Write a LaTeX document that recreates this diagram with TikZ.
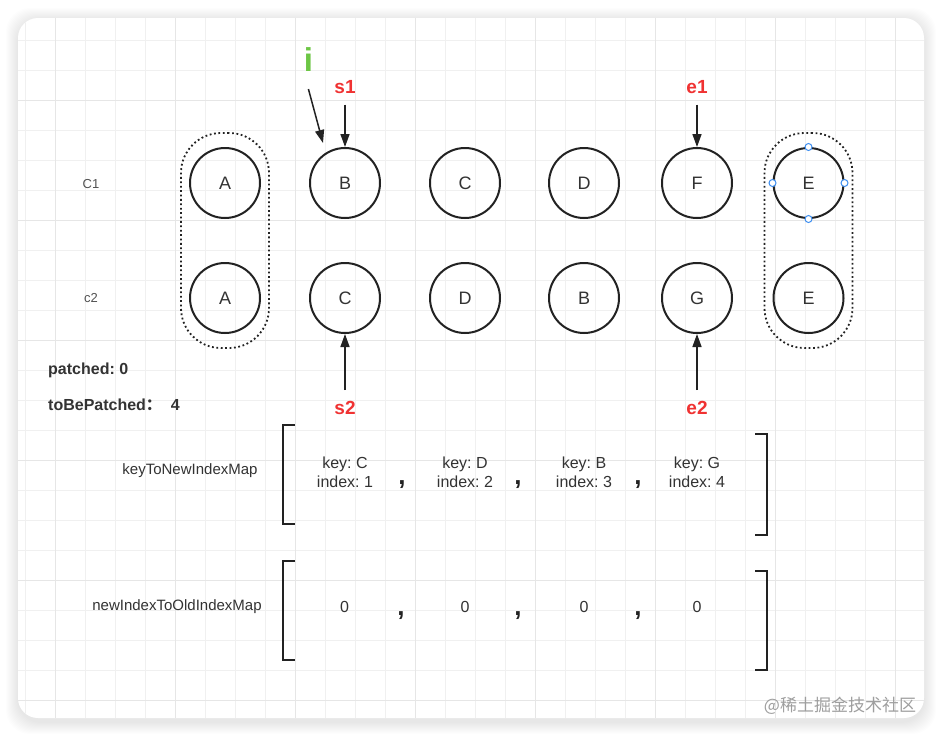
\documentclass[tikz,border=0pt]{standalone}
\usepackage{fontspec}
\setmainfont{Liberation Sans}
\newfontfamily\cjk{Noto Sans CJK SC}
\usepackage{tikz}
\usetikzlibrary{positioning,arrows.meta,fit}
\frenchspacing

\definecolor{ink}{HTML}{222222}
\definecolor{txt}{HTML}{333333}
\definecolor{ptrred}{HTML}{F03232}
\definecolor{igreen}{HTML}{6CC644}
\definecolor{handleblue}{HTML}{3D8EF0}
\definecolor{gridminor}{HTML}{F0F0F0}
\definecolor{gridmajor}{HTML}{E6E6E6}

\begin{document}
\begin{tikzpicture}[
    x=1pt, y=-1pt,
    circ/.style={circle, draw=ink, line width=2pt, minimum size=70pt, inner sep=0pt, text=txt, font=\fontsize{18}{20}\selectfont},
    grp/.style={draw=ink, line width=1.8pt, dash pattern=on 1.8pt off 2.6pt, rounded corners=40pt, inner xsep=8pt, inner ysep=14pt},
    ptr/.style={text=ptrred, inner sep=0pt, font=\bfseries\fontsize{19}{20}\selectfont},
    rowlbl/.style={text=txt!85, font=\fontsize{13}{15}\selectfont},
    info/.style={text=txt, anchor=west, inner sep=0pt, font=\bfseries\fontsize{16}{18}\selectfont},
    maplbl/.style={text=txt, font=\fontsize{15}{17}\selectfont},
    item/.style={text=txt, align=center, inner sep=0pt, font=\fontsize{16}{19}\selectfont},
    comma/.style={text=ink, anchor=base, inner sep=0pt, font=\bfseries\fontsize{26}{28}\selectfont},
    handle/.style={circle, draw=handleblue, fill=white, line width=1pt, minimum size=7pt, inner sep=0pt},
    bracket/.style={draw=ink, line width=2pt},
    arrow/.style={-{Triangle[length=13pt, width=9pt]}, line width=1.5pt, draw=ink}
]
\useasboundingbox (0,0) rectangle (942,737);

% Card with shadow
\foreach \s in {1,...,12}
  \fill[black, opacity=0.007, rounded corners=24pt] (18-\s,20-\s) rectangle (924+\s,722+\s);
\fill[white, rounded corners=20pt] (18,18) rectangle (924,718);

% Grid
\begin{scope}
  \clip[rounded corners=20pt] (18,18) rectangle (924,718);
  \foreach \k in {0,...,29} \draw[gridminor, line width=1pt] ({25.7+30*\k},18) -- ({25.7+30*\k},718);
  \foreach \k in {1,...,23} \draw[gridminor, line width=1pt] (18,{10.7+30*\k}) -- (924,{10.7+30*\k});
  \foreach \k in {1,5,...,29} \draw[gridmajor, line width=1pt] ({25.7+30*\k},18) -- ({25.7+30*\k},718);
  \foreach \k in {3,7,...,23} \draw[gridmajor, line width=1pt] (18,{10.7+30*\k}) -- (924,{10.7+30*\k});
\end{scope}

% Row labels
\node[rowlbl] (c1Lbl) at (91,184) {C1};
\node[rowlbl] (c2Lbl) at (91,298) {c2};

% Row 1: old children
\node[circ] (oldA) at (225,183) {A};
\node[circ] (oldB) at (345,183) {B};
\node[circ] (oldC) at (465,183) {C};
\node[circ] (oldD) at (584,183) {D};
\node[circ] (oldF) at (697,183) {F};
\node[circ] (oldE) at (808.5,183) {E};

% Row 2: new children
\node[circ, below=43pt of oldA] (newA) {A};
\node[circ, below=43pt of oldB] (newC) {C};
\node[circ, below=43pt of oldC] (newD) {D};
\node[circ, below=43pt of oldD] (newB) {B};
\node[circ, below=43pt of oldF] (newG) {G};
\node[circ, below=43pt of oldE] (newE) {E};

% Synced groups
\node[grp, fit=(oldA)(newA)] (headGrp) {};
\node[grp, fit=(oldE)(newE)] (tailGrp) {};

% Selection handles
\foreach \a in {north,south,east,west}
  \node[handle] at (oldE.\a) {};

% Pointers
\node[text=igreen, inner sep=0pt, font=\bfseries\fontsize{33}{35}\selectfont] (iLbl) at (308.5,59.5) {i};
\coordinate (iTip) at (323,143);
\node[ptr, above=53pt of oldB] (s1Lbl) {s1};
\node[ptr, above=53pt of oldF] (e1Lbl) {e1};
\node[ptr, below=67pt of newC] (s2Lbl) {s2};
\node[ptr, below=67pt of newG] (e2Lbl) {e2};

\draw[arrow, shorten <=18pt] (iLbl.south west) -- (iTip);
\draw[arrow, shorten <=10.5pt] (s1Lbl) -- (oldB);
\draw[arrow, shorten <=10.5pt] (e1Lbl) -- (oldF);
\draw[arrow, shorten <=11pt] (s2Lbl) -- (newC);
\draw[arrow, shorten <=11pt] (e2Lbl) -- (newG);

% Counters
\node[info] (patched) at (48,370) {patched: 0};
\node[info] (toPatch) at (48,405) {toBePatched{\cjk\bfseries ：}\hspace{9pt}4};

% keyToNewIndexMap
\node[maplbl] (keyMapLbl) at (190,470.5) {keyToNewIndexMap};
\draw[bracket] (295,425) -- (283,425) -- (283,524) -- (295,524);
\draw[bracket] (755,434) -- (767,434) -- (767,535) -- (755,535);
\node[item] (keyC) at (345,472) {key: C\\index: 1};
\node[item] (keyD) at (465,472) {key: D\\index: 2};
\node[item] (keyB) at (584,472) {key: B\\index: 3};
\node[item] (keyG) at (697,472) {key: G\\index: 4};
\node[comma] (kc1) at (402,484) {,};
\node[comma] (kc2) at (518,484) {,};
\node[comma] (kc3) at (638,484) {,};

% newIndexToOldIndexMap
\node[maplbl] (oldMapLbl) at (177,607) {newIndexToOldIndexMap};
\draw[bracket] (295,561) -- (283,561) -- (283,660) -- (295,660);
\draw[bracket] (755,571) -- (767,571) -- (767,670) -- (755,670);
\node[item] (z1) at (344.5,607) {0};
\node[item] (z2) at (465,607) {0};
\node[item] (z3) at (584,607) {0};
\node[item] (z4) at (697,607) {0};
\node[comma] (zc1) at (401,615) {,};
\node[comma] (zc2) at (518,615) {,};
\node[comma] (zc3) at (638,615) {,};

% Watermark
\node[text=black!38, font=\cjk\fontsize{17}{19}\selectfont] (mark) at (840,706) {@稀土掘金技术社区};

\end{tikzpicture}
\end{document}
